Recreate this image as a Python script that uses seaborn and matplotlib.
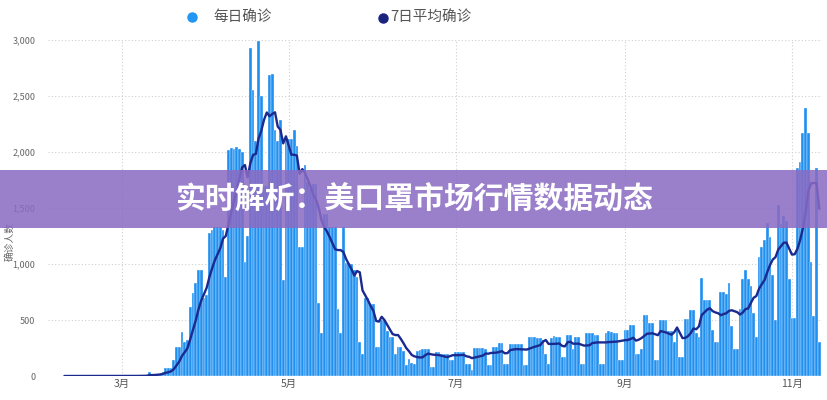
import numpy as np
import pandas as pd
import matplotlib
matplotlib.use("Agg")
import matplotlib.pyplot as plt
import seaborn as sns
from matplotlib.patches import Rectangle
from matplotlib.lines import Line2D

# ---------------- data ----------------
start_date = "2020-02-09"
daily_cases = [
    0, 0, 0, 0, 0, 0, 0, 0, 0, 0, 0, 0, 0, 0, 0, 0, 0, 0, 0, 0, 0,
    0, 0, 1, 0, 1, 2, 1,
    2, 3, 5, 35, 8, 10, 15,
    20, 40, 70, 70, 70, 140, 260,
    260, 390, 300, 320, 615, 740, 830,
    950, 950, 700, 720, 1280, 1300, 1330,
    1330, 1330, 1300, 880, 2020, 2040, 2030,
    2045, 2030, 2000, 1020, 1250, 2930, 2550,
    2100, 2990, 2500, 1700, 1700, 2690, 2700,
    2200, 2100, 2290, 860, 2140, 2120, 2120,
    2200, 2050, 1150, 1150, 1880, 1730, 1680,
    1710, 1710, 650, 380, 1450, 1450, 1330,
    1330, 1330, 600, 380, 1330, 1010, 1010,
    1000, 950, 880, 300, 200, 700, 700,
    640, 640, 260, 260, 500, 500, 400,
    350, 350, 200, 260, 260, 225, 100,
    150, 120, 110, 220, 230, 240, 240,
    240, 80, 80, 210, 210, 200, 200,
    200, 140, 140, 210, 210, 210, 210,
    110, 110, 55, 250, 250, 250, 250,
    240, 100, 100, 260, 260, 295, 295,
    110, 110, 290, 290, 290, 290, 290,
    100, 100, 350, 350, 350, 340, 340,
    320, 200, 110, 340, 360, 350, 350,
    170, 170, 370, 370, 240, 350, 350,
    110, 110, 380, 380, 380, 370, 370,
    110, 110, 380, 400, 390, 380, 380,
    140, 140, 410, 410, 455, 455, 200,
    200, 240, 545, 545, 470, 470, 140,
    140, 500, 500, 500, 400, 400, 300,
    430, 170, 170, 510, 510, 590, 590,
    380, 350, 875, 680, 680, 680, 410,
    300, 300, 750, 750, 730, 830, 450,
    240, 240, 600, 870, 950, 870, 800,
    560, 350, 1060, 1150, 1210, 1370, 1240,
    900, 500, 1530, 1360, 1430, 1380, 870,
    520, 520, 1860, 1910, 2170, 2390, 2170,
    1020, 540, 1860, 300,
]
month_ticks = ["2020-03-01", "2020-05-01", "2020-07-01", "2020-09-01", "2020-11-01"]
month_labels = ["3月", "5月", "7月", "9月", "11月"]
y_ticks = [0, 500, 1000, 1500, 2000, 2500, 3000]
series_names = ["每日确诊", "7日平均确诊"]
title_text = "实时解析：美口罩市场行情数据动态"
y_label = "确诊人数"

# ---------------- frame ----------------
ref = pd.Timestamp("2020-03-01")
dates = pd.date_range(start_date, periods=len(daily_cases), freq="D")
df = pd.DataFrame({"date": dates, "daily": daily_cases})
df["x"] = (df["date"] - ref).dt.days
df["avg"] = df["daily"].rolling(7, min_periods=1).mean()
tick_x = [(pd.Timestamp(t) - ref).days for t in month_ticks]

sns.set_theme(style="white")
plt.rcParams["font.family"] = ["Noto Sans CJK SC", "DejaVu Sans"]

BAR = "#1f8ff0"
LINE = "#1b2a8f"

fig = plt.figure(figsize=(8.27, 4.0), dpi=100)
ax = fig.add_axes([48 / 827, 24 / 400, (822 - 48) / 827, (376 - 40) / 400])

sns.barplot(data=df, x="x", y="daily", native_scale=True, width=1.0,
            color=BAR, saturation=1, edgecolor="white", linewidth=0.25,
            errorbar=None, ax=ax, zorder=2)
sns.lineplot(data=df, x="x", y="avg", color=LINE, linewidth=1.7, ax=ax, zorder=3)

ax.set_xlim(-27, 256)
ax.set_ylim(0, 3000)
ax.set_xticks(tick_x)
ax.set_xticklabels(month_labels, fontsize=7.5, color="#555555")
ax.set_yticks(y_ticks)
ax.set_yticklabels([f"{v:,}" for v in y_ticks], fontsize=6.5, color="#666666")
ax.tick_params(axis="both", length=0)
ax.tick_params(axis="y", pad=9)
ax.tick_params(axis="x", pad=2)
ax.set_xlabel("")
ax.set_ylabel(y_label, fontsize=7, color="#666666")
ax.yaxis.set_label_coords(-0.043, 0.4)
for s in ax.spines.values():
    s.set_visible(False)
ax.set_axisbelow(True)
ax.grid(True, linestyle=(0, (1, 2)), color="#cfcfcf", linewidth=0.8)

# legend (top)
fig.add_artist(Line2D([192 / 827], [1 - 17 / 400], marker="o", markersize=6.5,
                      color="#2196f3", linestyle="none", transform=fig.transFigure))
fig.text(213 / 827, 1 - 17 / 400, series_names[0], fontsize=10.5, color="#555555",
         va="center", ha="left")
fig.add_artist(Line2D([383 / 827], [1 - 18 / 400], marker="o", markersize=6.5,
                      color="#1a237e", linestyle="none", transform=fig.transFigure))
fig.text(390 / 827, 1 - 17 / 400, series_names[1], fontsize=10.5, color="#555555",
         va="center", ha="left")

# banner
fig.add_artist(Rectangle((0, 1 - 228 / 400), 1, 58 / 400, transform=fig.transFigure,
                         facecolor=(138 / 255, 106 / 255, 195 / 255), alpha=0.86,
                         edgecolor="none", zorder=10))
fig.text(415 / 827, 1 - 200 / 400, title_text, fontsize=21.5, fontweight="bold",
         color="white", ha="center", va="center", zorder=11)

fig.savefig("out.png", dpi=100)
